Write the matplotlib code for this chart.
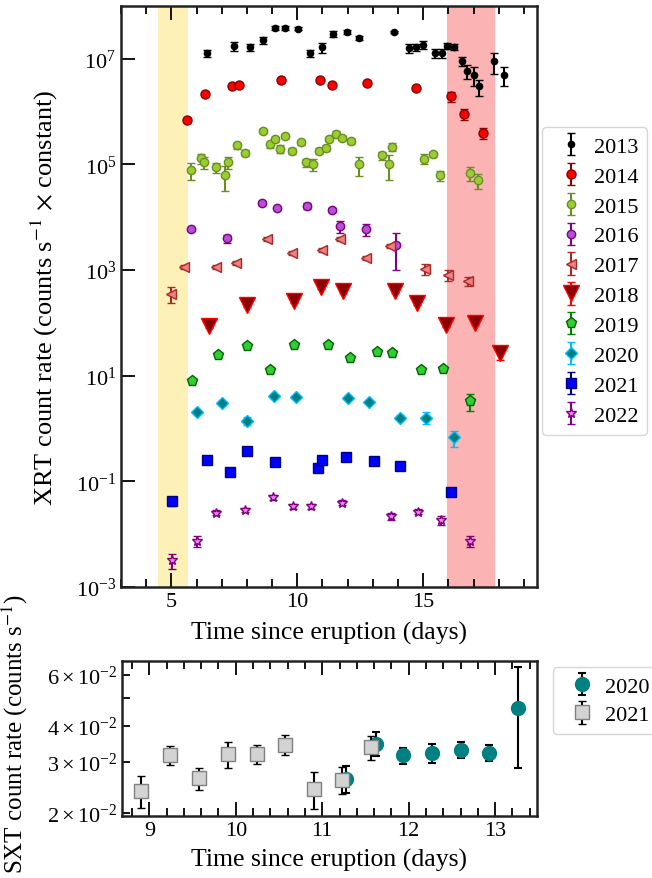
import numpy as np
import matplotlib
matplotlib.use("Agg")
import matplotlib.pyplot as plt

plt.rcParams['font.family'] = ['Liberation Serif', 'DejaVu Serif']
plt.rcParams['mathtext.fontset'] = 'stix'
plt.rcParams['font.size'] = 16

# ---------------- top panel data (XRT, scaled) ----------------
d2013 = [6.43, 7.50, 8.11, 8.64, 9.10, 9.50, 10.03, 10.52, 10.99, 11.43, 11.98, 12.46, 13.86,
         14.45, 14.72, 14.99, 15.48, 15.75, 15.95, 16.24, 16.54, 16.74, 17.00, 17.23, 17.83, 18.20]
r2013 = [1.29e7, 1.74e7, 1.66e7, 2.24e7, 3.89e7, 3.89e7, 3.72e7, 1.29e7, 1.66e7, 2.95e7, 3.24e7, 2.51e7, 3.24e7,
         1.58e7, 1.66e7, 1.86e7, 1.29e7, 1.29e7, 1.78e7, 1.70e7, 9.1e6, 6.0e6, 5.0e6, 3.0e6, 9.1e6, 5.0e6]
e2013 = [2.0e6, 3.5e6, 2.5e6, 3.5e6, 3.0e6, 3.0e6, 2.5e6, 2.0e6, 3.5e6, 4.0e6, 3.0e6, 2.5e6, 2.0e6,
         3.0e6, 2.5e6, 3.0e6, 2.5e6, 2.5e6, 2.5e6, 2.5e6, 1.8e6, 1.8e6, 2.0e6, 1.0e6, 4.0e6, 2.0e6]

d2014 = [5.61, 6.34, 7.39, 7.67, 9.35, 10.90, 11.36, 12.76, 14.71, 16.10, 16.63, 17.36]
r2014 = [6.9e5, 2.2e6, 3.0e6, 3.2e6, 3.9e6, 4.0e6, 3.2e6, 3.5e6, 2.8e6, 1.95e6, 9.1e5, 4.0e5]
e2014 = [4e4, 1e5, 1.5e5, 1.5e5, 2e5, 2e5, 1.5e5, 1.5e5, 1.5e5, 4e5, 2.2e5, 1.0e5]

d2015 = [5.78, 6.16, 6.31, 6.78, 7.12, 7.24, 7.60, 7.94, 8.65, 8.90, 9.12, 9.30, 9.51, 9.79, 10.13, 10.33,
         10.61, 10.86, 11.14, 11.27, 11.52, 11.79, 12.12, 12.45, 13.38, 13.65, 13.78, 15.05, 15.39, 15.65,
         16.85, 17.18]
r2015 = [7.9e4, 1.32e5, 1.10e5, 8.9e4, 6.2e4, 1.10e5, 2.29e5, 1.66e5, 4.37e5, 2.40e5, 3.02e5, 2.0e5, 3.47e5,
         1.82e5, 2.63e5, 1.10e5, 1.02e5, 1.82e5, 2.04e5, 3.02e5, 3.80e5, 3.16e5, 2.75e5, 1.0e5, 1.48e5, 1.0e5,
         2.14e5, 1.29e5, 1.58e5, 6.2e4, 6.9e4, 5.0e4]
e2015 = [2.8e4, 2.9e4, 2.9e4, 2.0e4, 3.1e4, 2.9e4, 3.0e4, 2.2e4, 4.0e4, 3.1e4, 3.3e4, 3.4e4, 3.1e4,
         2.4e4, 2.4e4, 1.9e4, 2.7e4, 2.4e4, 2.7e4, 2.7e4, 4.2e4, 2.8e4, 3.0e4, 4.0e4, 2.5e4, 5.0e4,
         3.6e4, 2.8e4, 1.7e4, 1.4e4, 2.1e4, 1.5e4]

d2016 = [5.78, 7.20, 8.59, 9.18, 10.38, 11.37, 11.69, 12.72, 13.91]
r2016 = [5.9e3, 4.0e3, 1.86e4, 1.48e4, 1.66e4, 1.38e4, 6.9e3, 6.0e3, 3.0e3]
e2016 = [5e2, 7e2, 1.6e3, 1.2e3, 2.0e3, 1.2e3, 1.8e3, 1.5e3, 2.0e3]

d2017 = [4.99, 5.49, 6.78, 7.58, 8.78, 9.79, 11.00, 11.69, 12.73, 13.69, 15.08, 15.97, 16.78]
r2017 = [355, 1.17e3, 1.17e3, 1.38e3, 3.9e3, 2.14e3, 2.45e3, 3.9e3, 1.70e3, 2.88e3, 1.05e3, 8.1e2, 6.3e2]
e2017 = [120, 100, 100, 110, 300, 170, 200, 300, 140, 230, 240, 190, 120]

d2018 = [6.51, 8.02, 9.87, 10.94, 11.80, 13.88, 14.75, 15.92, 17.05, 18.03]
r2018 = [89, 219, 263, 479, 407, 398, 240, 93, 98, 27.5]
e2018 = [7, 17, 20, 35, 30, 30, 18, 8, 8, 8]

d2019 = [5.82, 6.85, 8.02, 8.93, 9.87, 11.20, 12.10, 13.18, 13.75, 14.92, 15.77, 16.87]
r2019 = [7.9, 25.1, 37.2, 12.9, 38.9, 38.0, 21.4, 28.8, 26.9, 12.6, 13.5, 3.4]
e2019 = [0.6, 1.5, 2.0, 0.9, 2.0, 2.0, 1.5, 1.8, 1.8, 0.9, 1.0, 1.2]

d2020 = [6.02, 7.00, 8.02, 9.06, 9.93, 12.02, 12.85, 14.06, 15.10, 16.22]
r2020 = [2.04, 3.02, 1.41, 4.07, 3.89, 3.80, 3.24, 1.62, 1.62, 0.68]
e2020 = [0.15, 0.2, 0.25, 0.3, 0.3, 0.3, 0.25, 0.15, 0.4, 0.23]

d2021 = [5.01, 6.42, 7.32, 8.02, 9.12, 10.83, 10.99, 11.95, 13.06, 14.08, 16.11]
r2021 = [0.0417, 0.257, 0.148, 0.380, 0.229, 0.182, 0.257, 0.288, 0.240, 0.200, 0.0617]
e2021 = [0.008, 0.012, 0.008, 0.018, 0.011, 0.009, 0.012, 0.014, 0.012, 0.010, 0.005]

d2022 = [5.01, 6.02, 6.76, 7.91, 9.02, 9.82, 10.56, 11.78, 13.72, 14.79, 15.72, 16.85]
r2022 = [0.00324, 0.00759, 0.0257, 0.0288, 0.0501, 0.0339, 0.0339, 0.0398, 0.0219, 0.0269, 0.0182, 0.00759]
e2022 = [0.0010, 0.0018, 0.003, 0.003, 0.005, 0.004, 0.004, 0.004, 0.0035, 0.003, 0.0035, 0.0018]

years = ['2013', '2014', '2015', '2016', '2017', '2018', '2019', '2020', '2021', '2022']
xrt_days = [d2013, d2014, d2015, d2016, d2017, d2018, d2019, d2020, d2021, d2022]
xrt_rate = [r2013, r2014, r2015, r2016, r2017, r2018, r2019, r2020, r2021, r2022]
xrt_err = [e2013, e2014, e2015, e2016, e2017, e2018, e2019, e2020, e2021, e2022]

# ---------------- bottom panel data (SXT) ----------------
sxt20_days = [11.28, 11.62, 11.93, 12.27, 12.60, 12.93, 13.27]
sxt20_rate = [0.0262, 0.0347, 0.0316, 0.0322, 0.0331, 0.0323, 0.0461]
sxt20_err = [0.0028, 0.0033, 0.0020, 0.0025, 0.0022, 0.0021, 0.0175]

sxt21_days = [8.90, 9.24, 9.57, 9.91, 10.24, 10.57, 10.91, 11.23, 11.57]
sxt21_rate = [0.0238, 0.0316, 0.0264, 0.0320, 0.0320, 0.0344, 0.0242, 0.0260, 0.0337]
sxt21_err = [0.0030, 0.0024, 0.0023, 0.0033, 0.0024, 0.0027, 0.0035, 0.0028, 0.0033]

# ---------------- styles ----------------
styles = {
    '2013': dict(marker='o', ms=4.5, mfc='black', mec='black', ecolor='black'),
    '2014': dict(marker='o', ms=6.5, mfc='red', mec='darkred', ecolor='darkred'),
    '2015': dict(marker='o', ms=6, mfc='yellowgreen', mec='olivedrab', ecolor='olivedrab'),
    '2016': dict(marker='o', ms=6, mfc='#b550d8', mec='purple', ecolor='purple'),
    '2017': dict(marker='<', ms=7.5, mfc='lightcoral', mec='brown', ecolor='brown'),
    '2018': dict(marker='v', ms=11, mfc='darkred', mec='red', ecolor='red'),
    '2019': dict(marker='p', ms=8, mfc='limegreen', mec='darkgreen', ecolor='green'),
    '2020': dict(marker='D', ms=6.5, mfc='teal', mec='deepskyblue', ecolor='deepskyblue'),
    '2021': dict(marker='s', ms=7.5, mfc='blue', mec='navy', ecolor='navy'),
    '2022': dict(marker='*', ms=7.5, mfc='violet', mec='purple', ecolor='purple'),
}

LABEL_FS = 18.5
TICK_FS = 16

fig = plt.figure(figsize=(6.52, 8.79), dpi=100)
ax1 = fig.add_axes([0.1856, 0.331, 0.6373, 0.661])
ax2 = fig.add_axes([0.1866, 0.0709, 0.6364, 0.1763])

ax1.axvspan(4.45, 5.65, color='#fdf0b0', alpha=0.9, lw=0, zorder=0)
ax1.axvspan(15.95, 17.85, color='#fcb3b3', alpha=1.0, lw=0, zorder=0)

for yr, dd, rr, ee in zip(years, xrt_days, xrt_rate, xrt_err):
    st = styles[yr]
    ax1.errorbar(dd, rr, yerr=ee, fmt=st['marker'], ms=st['ms'], mfc=st['mfc'], mec=st['mec'],
                 mew=1.0, ecolor=st['ecolor'], elinewidth=1.5, capsize=3, capthick=1.5,
                 label=yr, zorder=3)

ax1.set_yscale('log')
ax1.set_xlim(3.0, 19.5)
ax1.set_ylim(1e-3, 1e8)
ax1.set_yticks([1e-3, 1e-1, 1e1, 1e3, 1e5, 1e7])
ax1.yaxis.set_minor_locator(matplotlib.ticker.NullLocator())
ax1.xaxis.set_major_locator(matplotlib.ticker.MultipleLocator(5))
ax1.xaxis.set_minor_locator(matplotlib.ticker.MultipleLocator(1))
ax1.tick_params(which='both', direction='in', top=True, right=False, width=1.3, labelsize=TICK_FS)
ax1.tick_params(which='major', length=10)
ax1.tick_params(which='minor', length=5.5)
ax1.set_xlabel('Time since eruption (days)', fontsize=LABEL_FS, labelpad=7)
ax1.set_ylabel(r'XRT count rate (counts s$^{-1}$ $\times$ constant)', fontsize=19)
ax1.yaxis.set_label_coords(-0.148, 0.5)
for sp in ax1.spines.values():
    sp.set_linewidth(1.8)
    sp.set_color('#222222')

leg1 = ax1.legend(loc='upper left', bbox_to_anchor=(0.831, 0.854), bbox_transform=fig.transFigure,
                  fontsize=16, labelspacing=0.42, handlelength=1.8, handletextpad=0.15,
                  borderpad=0.4, borderaxespad=0)

# bottom panel
ax2.errorbar(sxt20_days, sxt20_rate, yerr=sxt20_err, fmt='o', ms=10, mfc='teal', mec='teal',
             ecolor='black', elinewidth=1.5, capsize=3, capthick=1.5, label='2020', zorder=3)
ax2.errorbar(sxt21_days, sxt21_rate, yerr=sxt21_err, fmt='s', ms=10, mfc='lightgray', mec='gray',
             mew=1.0, ecolor='black', elinewidth=1.5, capsize=3, capthick=1.5, label='2021', zorder=4)
ax2.set_yscale('log')
ax2.set_xlim(8.68, 13.48)
ax2.set_ylim(0.0196, 0.067)
ax2.xaxis.set_major_locator(matplotlib.ticker.MultipleLocator(1))
ax2.xaxis.set_minor_locator(matplotlib.ticker.MultipleLocator(0.2))
ax2.tick_params(which='both', direction='in', top=True, right=False, width=1.3, labelsize=TICK_FS)
ax2.tick_params(which='major', length=10)
ax2.tick_params(which='minor', length=5.5)
ax2.set_xlabel('Time since eruption (days)', fontsize=LABEL_FS, labelpad=6)
ax2.set_ylabel(r'SXT count rate (counts s$^{-1}$)', fontsize=18)
ax2.yaxis.set_label_coords(-0.222, 0.535)
for sp in ax2.spines.values():
    sp.set_linewidth(1.8)
    sp.set_color('#222222')

leg2 = ax2.legend(loc='upper left', bbox_to_anchor=(0.848, 0.2395), bbox_transform=fig.transFigure,
                  fontsize=16, labelspacing=0.35, handlelength=1.8, handletextpad=0.15,
                  borderpad=0.4, borderaxespad=0)

fig.savefig('out.png', dpi=100)
